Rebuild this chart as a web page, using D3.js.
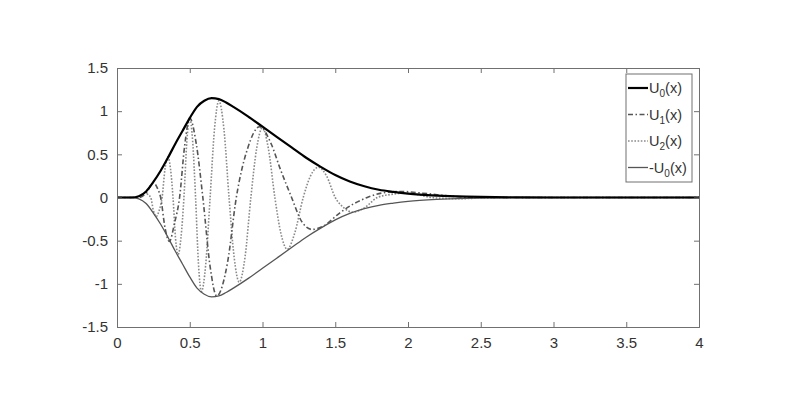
<!DOCTYPE html>
<html>
<head>
  <meta charset="utf-8">
  <script src="https://cdn.jsdelivr.net/npm/d3@7"></script>
  <style>
    body { margin: 0; background: #fff; }
    text { font-family: "Liberation Sans", Arial, sans-serif; }
  </style>
</head>
<body>
<script>
  // envelope U0(x)
  var u0X = [0, 0.1, 0.15, 0.2, 0.25, 0.3, 0.35, 0.4, 0.45, 0.5, 0.55, 0.6, 0.65, 0.7, 0.75, 0.8, 0.9, 1.0, 1.1, 1.2, 1.3, 1.4, 1.5, 1.6, 1.7, 1.8, 1.9, 2.0, 2.2, 2.4, 2.6, 2.8, 3.0, 4.0];
  var u0Y = [0, 0, 0.015, 0.07, 0.18, 0.31, 0.46, 0.62, 0.77, 0.92, 1.05, 1.12, 1.15, 1.14, 1.1, 1.05, 0.94, 0.82, 0.70, 0.58, 0.46, 0.355, 0.26, 0.185, 0.13, 0.09, 0.065, 0.045, 0.022, 0.01, 0.004, 0.001, 0, 0];

  // U1(x), dash-dot
  var u1 = [[0,0],[0.15,0],[0.2,0.05],[0.25,0.17],[0.28,0.1],[0.3,0],[0.33,-0.35],[0.36,-0.51],[0.395,-0.3],
    [0.43,0],[0.465,0.6],[0.5,0.92],[0.545,0.62],[0.59,0],[0.64,-0.8],[0.685,-1.14],[0.76,-0.75],[0.82,0],
    [0.9,0.58],[0.98,0.82],[1.06,0.62],[1.12,0.34],[1.2,0],[1.27,-0.28],[1.34,-0.37],[1.42,-0.33],[1.53,-0.18],
    [1.63,-0.07],[1.72,0],[1.85,0.06],[1.95,0.07],[2.1,0.05],[2.3,0.015],[2.5,0],[4,0]];

  // U2(x), dotted
  var u2 = [[0,0],[0.14,0],[0.17,0.03],[0.195,0.06],[0.215,0.03],[0.232,0],[0.25,-0.15],[0.27,-0.22],[0.29,-0.15],
    [0.31,0],[0.33,0.33],[0.35,0.47],[0.368,0.33],[0.385,0],[0.402,-0.47],[0.42,-0.66],[0.44,-0.46],[0.46,0],
    [0.48,0.65],[0.5,0.92],[0.52,0.65],[0.54,0],[0.56,-0.77],[0.58,-1.09],[0.61,-0.77],[0.64,0],[0.67,0.79],
    [0.7,1.12],[0.735,0.79],[0.77,0],[0.805,-0.69],[0.84,-0.98],[0.88,-0.69],[0.92,0],[0.96,0.57],[1.0,0.81],
    [1.04,0.57],[1.085,0],[1.127,-0.42],[1.17,-0.6],[1.22,-0.42],[1.28,0],[1.33,0.25],[1.385,0.35],[1.44,0.25],
    [1.5,0],[1.56,-0.12],[1.62,-0.17],[1.7,-0.12],[1.79,0],[1.88,0.035],[1.97,0.05],[2.06,0.035],[2.16,0],
    [2.25,-0.01],[2.35,-0.015],[2.5,-0.005],[2.7,0],[4,0]];

  var xTicks = [0, 0.5, 1, 1.5, 2, 2.5, 3, 3.5, 4];
  var yTicks = [-1.5, -1, -0.5, 0, 0.5, 1, 1.5];
  var legendNames = ["U", "U", "U", "-U"];
  var legendSubs = ["0", "1", "2", "0"];

  var W = 789, H = 408;
  var mLeft = 117, mRight = 699, mTop = 68, mBottom = 327;

  var svg = d3.select("body").append("svg")
      .attr("width", W).attr("height", H);

  var x = d3.scaleLinear().domain([0, 4]).range([mLeft, mRight]);
  var y = d3.scaleLinear().domain([-1.5, 1.5]).range([mBottom, mTop]);

  svg.append("clipPath").attr("id", "clip")
    .append("rect").attr("x", mLeft).attr("y", mTop)
    .attr("width", mRight - mLeft).attr("height", mBottom - mTop);

  var u0 = u0X.map(function(d, i) { return [d, u0Y[i]]; });
  var negU0 = u0.map(function(d) { return [d[0], -d[1]]; });

  var line = d3.line()
      .x(function(d) { return x(d[0]); })
      .y(function(d) { return y(d[1]); })
      .curve(d3.curveMonotoneX);

  var plot = svg.append("g").attr("clip-path", "url(#clip)");

  // series styles
  var series = [
    { data: u2, color: "#8a8a8a", width: 1.6, dash: "1.6,1.6" },
    { data: u1, color: "#555", width: 1.6, dash: "5,2.5,1.5,2.5" },
    { data: negU0, color: "#555", width: 1.3, dash: null },
    { data: u0, color: "#000", width: 2.2, dash: null }
  ];
  series.forEach(function(s) {
    plot.append("path")
      .attr("d", line(s.data))
      .attr("fill", "none")
      .attr("stroke", s.color)
      .attr("stroke-width", s.width)
      .attr("stroke-dasharray", s.dash);
  });

  // axes, matlab style box with inward ticks
  var axCol = "#707070";
  var txtCol = "#333";
  var fmt = function(d) { return String(d); };
  svg.append("g").attr("transform", "translate(0," + mBottom + ")")
    .call(d3.axisBottom(x).tickValues(xTicks).tickSize(-5).tickPadding(10).tickFormat(fmt));
  svg.append("g").attr("transform", "translate(0," + mTop + ")")
    .call(d3.axisTop(x).tickValues(xTicks).tickSize(-5).tickFormat(""));
  svg.append("g").attr("transform", "translate(" + mLeft + ",0)")
    .call(d3.axisLeft(y).tickValues(yTicks).tickSize(-5).tickPadding(9).tickFormat(fmt));
  svg.append("g").attr("transform", "translate(" + mRight + ",0)")
    .call(d3.axisRight(y).tickValues(yTicks).tickSize(-5).tickFormat(""));

  svg.selectAll(".domain").attr("stroke", axCol).attr("stroke-width", 1);
  svg.selectAll(".tick line").attr("stroke", axCol);
  svg.selectAll(".tick text").attr("fill", txtCol).style("font-size", "15px")
    .style("font-family", "'Liberation Sans', Arial, sans-serif");

  // legend
  var lg = svg.append("g");
  lg.append("rect").attr("x", 626).attr("y", 74).attr("width", 66).attr("height", 108)
    .attr("fill", "#fff").attr("stroke", axCol).attr("stroke-width", 1);
  var legendStyles = [series[3], series[1], series[0], series[2]];
  legendNames.forEach(function(n, i) {
    var yy = 88 + i * 26.5;
    var s = legendStyles[i];
    lg.append("line").attr("x1", 628).attr("x2", 648).attr("y1", yy).attr("y2", yy)
      .attr("stroke", s.color).attr("stroke-width", s.width).attr("stroke-dasharray", s.dash);
    var t = lg.append("text").attr("x", 649).attr("y", yy + 5)
      .attr("fill", txtCol).style("font-size", "14.5px");
    t.append("tspan").text(n);
    t.append("tspan").attr("dy", 4).style("font-size", "10px").text(legendSubs[i]);
    t.append("tspan").attr("dy", -4).text("(x)");
  });
</script>
</body>
</html>
